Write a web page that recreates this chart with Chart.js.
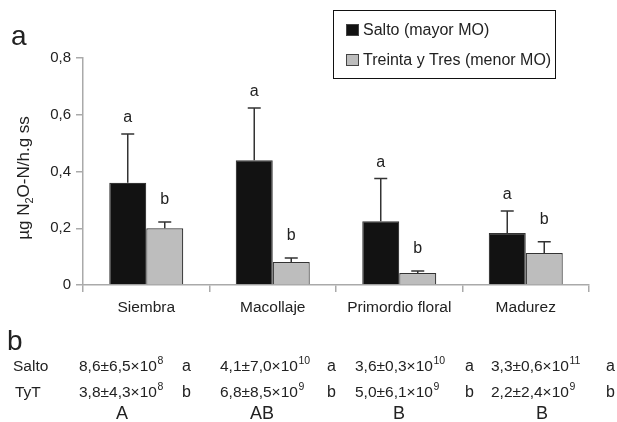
<!DOCTYPE html>
<html>
<head>
<meta charset="utf-8">
<script src="https://cdn.jsdelivr.net/npm/chart.js@4.4.1/dist/chart.umd.min.js"></script>
<style>
  html, body { margin: 0; padding: 0; background: #fff; }
  canvas { display: block; }
</style>
</head>
<body>
<canvas id="chart" width="617" height="422"></canvas>
<script>
// --- Data (panel a) ---
const stages = ['Siembra', 'Macollaje', 'Primordio floral', 'Madurez'];
const saltoMean = [0.36, 0.44, 0.225, 0.183];
const saltoSd = [0.172, 0.184, 0.15, 0.078];
const tytMean = [0.20, 0.081, 0.042, 0.113];
const tytSd = [0.022, 0.014, 0.007, 0.039];
const saltoSig = ['a', 'a', 'a', 'a'];
const tytSig = ['b', 'b', 'b', 'b'];
const yTicks = [0, 0.2, 0.4, 0.6, 0.8];

// --- Data (panel b) ---
const saltoB = ['8,6±6,5×10', '4,1±7,0×10', '3,6±0,3×10', '3,3±0,6×10'];
const saltoBExp = ['8', '10', '10', '11'];
const saltoBSig = ['a', 'a', 'a', 'a'];
const tytB = ['3,8±4,3×10', '6,8±8,5×10', '5,0±6,1×10', '2,2±2,4×10'];
const tytBExp = ['8', '9', '9', '9'];
const tytBSig = ['b', 'b', 'b', 'b'];
const stageSig = ['A', 'AB', 'B', 'B'];

const FONT = "'Liberation Sans', Arial, Helvetica, sans-serif";
const INK = '#222';
Chart.defaults.font.family = FONT;

// draws error bars, letters, legend, titles and table
const extras = {
  id: 'extras',
  afterDatasetsDraw(chart) {
    const ctx = chart.ctx;
    const y = chart.scales.y;
    ctx.save();
    const sds = [saltoSd, tytSd];
    const sigs = [saltoSig, tytSig];
    const offs = [12, 18];
    chart.data.datasets.forEach((ds, di) => {
      chart.getDatasetMeta(di).data.forEach((bar, i) => {
        const top = y.getPixelForValue(ds.data[i] + sds[di][i]);
        ctx.strokeStyle = '#333';
        ctx.lineWidth = 1.5;
        ctx.beginPath();
        ctx.moveTo(bar.x, bar.y);
        ctx.lineTo(bar.x, top);
        ctx.moveTo(bar.x - 6.5, top);
        ctx.lineTo(bar.x + 6.5, top);
        ctx.stroke();
        ctx.fillStyle = INK;
        ctx.font = '16px ' + FONT;
        ctx.textAlign = 'center';
        ctx.textBaseline = 'alphabetic';
        ctx.fillText(sigs[di][i], bar.x, top - offs[di]);
      });
    });
    ctx.restore();
  },
  afterDraw(chart) {
    const ctx = chart.ctx;
    ctx.save();
    ctx.fillStyle = INK;
    ctx.textBaseline = 'alphabetic';

    // panel letters
    ctx.font = '28px ' + FONT;
    ctx.textAlign = 'left';
    ctx.fillText('a', 11, 45);
    ctx.fillText('b', 7, 350);

    // y title with subscript
    ctx.save();
    ctx.translate(24, 178);
    ctx.rotate(-Math.PI / 2);
    const big = '17px ' + FONT, small = '11px ' + FONT;
    const p1 = 'µg N', p2 = '2', p3 = 'O-N/h.g ss';
    ctx.font = big; const w1 = ctx.measureText(p1).width, w3 = ctx.measureText(p3).width;
    ctx.font = small; const w2 = ctx.measureText(p2).width;
    let x0 = -(w1 + w2 + w3) / 2;
    ctx.textBaseline = 'middle';
    ctx.font = big; ctx.fillText(p1, x0, 0);
    ctx.font = small; ctx.fillText(p2, x0 + w1, 6);
    ctx.font = big; ctx.fillText(p3, x0 + w1 + w2, 0);
    ctx.restore();

    // legend
    ctx.strokeStyle = '#111';
    ctx.lineWidth = 1;
    ctx.strokeRect(333.5, 10.5, 222, 68);
    ctx.font = '16px ' + FONT;
    ctx.textBaseline = 'middle';
    chart.data.datasets.forEach((ds, i) => {
      const cy = 30 + i * 30;
      ctx.fillStyle = ds.backgroundColor;
      ctx.fillRect(346, cy - 6, 13, 12);
      ctx.strokeStyle = '#444';
      ctx.strokeRect(346.5, cy - 5.5, 12, 11);
      ctx.fillStyle = INK;
      ctx.fillText(ds.label, 363, cy + 1);
    });

    // table (panel b)
    ctx.textBaseline = 'alphabetic';
    const numX = [79, 220, 355, 491];
    const sigX = [182, 327, 465, 606];
    const centerX = [122, 262, 399, 542];
    function row(label, lx, base, vals, exps, sg) {
      ctx.font = '15.5px ' + FONT;
      ctx.textAlign = 'left';
      ctx.fillText(label, lx, base);
      vals.forEach((v, i) => {
        ctx.font = '15.5px ' + FONT;
        ctx.fillText(v, numX[i], base);
        const w = ctx.measureText(v).width;
        ctx.font = '10.5px ' + FONT;
        ctx.fillText(exps[i], numX[i] + w + 0.5, base - 7.5);
        ctx.font = '16px ' + FONT;
        ctx.fillText(sg[i], sigX[i], base);
      });
    }
    row('Salto', 13, 371, saltoB, saltoBExp, saltoBSig);
    row('TyT', 15, 397, tytB, tytBExp, tytBSig);
    ctx.font = '18px ' + FONT;
    ctx.textAlign = 'center';
    stageSig.forEach((s, i) => ctx.fillText(s, centerX[i], 419));
    ctx.restore();
  }
};

new Chart(document.getElementById('chart'), {
  type: 'bar',
  data: {
    labels: stages,
    datasets: [
      {
        label: 'Salto (mayor MO)',
        data: saltoMean,
        backgroundColor: '#121212',
        borderColor: '#333',
        borderWidth: 1.2
      },
      {
        label: 'Treinta y Tres (menor MO)',
        data: tytMean,
        backgroundColor: '#bdbdbd',
        borderColor: '#333',
        borderWidth: 1.2
      }
    ]
  },
  options: {
    responsive: false,
    animation: false,
    categoryPercentage: 0.585,
    barPercentage: 1,
    layout: { padding: { top: 58, right: 28, left: 0, bottom: 0 } },
    plugins: {
      legend: { display: false },
      tooltip: { enabled: false }
    },
    scales: {
      x: {
        grid: { offset: true, drawOnChartArea: false, tickLength: 7, color: '#aaa', lineWidth: 1.5 },
        border: { color: '#aaa', width: 1.5 },
        ticks: { font: { size: 15.5 }, color: INK, padding: 6 },
        afterFit: s => { s.height = 137; }
      },
      y: {
        min: 0,
        max: 0.8,
        afterBuildTicks: s => { s.ticks = yTicks.map(v => ({ value: v })); },
        ticks: {
          font: { size: 15 },
          color: INK,
          padding: 5,
          callback: v => v === 0 ? '0' : v.toFixed(1).replace('.', ',')
        },
        grid: { drawOnChartArea: false, tickLength: 7, color: '#aaa', lineWidth: 1.5 },
        border: { color: '#aaa', width: 1.5 },
        afterFit: s => { s.width = 83; }
      }
    }
  },
  plugins: [extras]
});
</script>
</body>
</html>
